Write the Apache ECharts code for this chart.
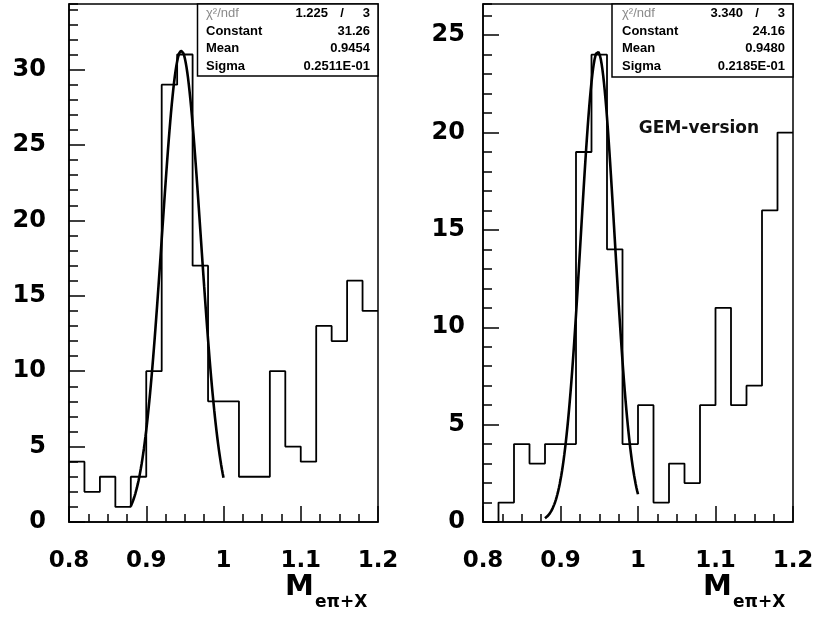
<!DOCTYPE html>
<html>
<head>
<meta charset="utf-8">
<script src="https://cdn.jsdelivr.net/npm/echarts@6/dist/echarts.min.js"></script>
<style>
html,body{margin:0;padding:0;background:#fff;}
#c{width:820px;height:623px;}
</style>
</head>
<body>
<div id="c"></div>
<script>
// ---- data ----
const binEdges = [0.80,0.82,0.84,0.86,0.88,0.90,0.92,0.94,0.96,0.98,1.00,1.02,1.04,1.06,1.08,1.10,1.12,1.14,1.16,1.18,1.20];
const leftCounts  = [4,2,3,1,3,10,29,31,17,8,8,3,3,10,5,4,13,12,16,14];
const rightCounts = [0,1,4,3,4,4,19,24,14,4,6,1,3,2,6,11,6,7,16,20];
const fitLabels = ['Constant','Mean','Sigma'];
const leftFitParams  = [31.26, 0.9454, 0.02511];
const rightFitParams = [24.16, 0.9480, 0.02185];
const leftFitText  = ['31.26','0.9454','0.2511E-01'];
const rightFitText = ['24.16','0.9480','0.2185E-01'];
const leftChi2  = ['1.225','3'];
const rightChi2 = ['3.340','3'];
const fitRange = [0.88, 1.00];
const xRange = [0.8, 1.2];
const leftYMax = 34.35;
const rightYMax = 26.6;
const panelNote = 'GEM-version';

// ---- helpers ----
function histPoints(counts){
  const pts = counts.map((c,i)=>[binEdges[i], c]);
  pts.push([binEdges[binEdges.length-1], counts[counts.length-1]]);
  return pts;
}
function fitCurve(p){
  // fitted gaussian drawn from the displayed fit parameters
  const pts = [];
  const n = 120;
  for(let k=0;k<=n;k++){
    const x = fitRange[0] + (fitRange[1]-fitRange[0])*k/n;
    const z = (x-p[1])/p[2];
    pts.push([x, p[0]*Math.exp(-0.5*z*z)]);
  }
  return pts;
}

const chart = echarts.init(document.getElementById('c'), null, {renderer:'canvas'});
const xFont = {fontFamily:'DejaVu Sans', fontWeight:'bold', fontSize:23, color:'#000'};
const yFont = {fontFamily:'DejaVu Sans', fontWeight:'bold', fontSize:24, color:'#000'};

function xAxisCfg(gi){
  return {
    type:'value', gridIndex:gi, min:xRange[0], max:xRange[1], interval:0.1,
    axisLine:{show:true, lineStyle:{color:'#000', width:1.5}},
    axisTick:{show:true, inside:true, length:16, lineStyle:{color:'#000', width:1.5}},
    minorTick:{show:true, splitNumber:4, length:8, lineStyle:{color:'#000', width:1.5}},
    splitLine:{show:false}, minorSplitLine:{show:false},
    axisLabel:Object.assign({margin:28, formatter:v=>String(+(+v).toFixed(1))}, xFont)
  };
}
function yAxisMajor(gi, max, margin){
  return {
    type:'value', gridIndex:gi, min:0, max:max, interval:5, position:'left',
    axisLine:{show:true, lineStyle:{color:'#000', width:1.5}},
    axisTick:{show:true, inside:true, length:16, lineStyle:{color:'#000', width:1.5}},
    splitLine:{show:false},
    axisLabel:Object.assign({margin:margin, showMaxLabel:false,
      formatter:v=>(Math.abs(v%5)<1e-6? String(Math.round(v)) : '')}, yFont)
  };
}
function yAxisMinor(gi, max){
  return {
    type:'value', gridIndex:gi, min:0, max:max, interval:1, position:'left',
    axisLine:{show:false},
    axisTick:{show:true, inside:true, length:9, lineStyle:{color:'#000', width:1.5}},
    splitLine:{show:false},
    axisLabel:{show:false}
  };
}

function statBox(x0, y0, w, h, labelX, valueX, chiValX, slashX, chi, vals){
  const els = [];
  const font = 'bold 13px "Liberation Sans", Arial, sans-serif';
  els.push({type:'rect', z:100, shape:{x:x0, y:y0, width:w, height:h},
    style:{fill:'#fff', stroke:'#000', lineWidth:1.5}});
  const rows = [13, 31, 48.5, 66.5];
  els.push({type:'text', z:101, x:labelX, y:rows[0],
    style:{text:'χ²/ndf', font:'13px "Liberation Sans", Arial, sans-serif', fill:'#8a8a8a', align:'left', verticalAlign:'middle'}});
  els.push({type:'text', z:101, x:chiValX, y:rows[0],
    style:{text:chi[0], font:font, fill:'#000', align:'right', verticalAlign:'middle'}});
  els.push({type:'text', z:101, x:slashX, y:rows[0],
    style:{text:'/', font:font, fill:'#000', align:'center', verticalAlign:'middle'}});
  els.push({type:'text', z:101, x:valueX, y:rows[0],
    style:{text:chi[1], font:font, fill:'#000', align:'right', verticalAlign:'middle'}});
  for(let i=0;i<3;i++){
    els.push({type:'text', z:101, x:labelX, y:rows[i+1],
      style:{text:fitLabels[i], font:font, fill:'#000', align:'left', verticalAlign:'middle'}});
    els.push({type:'text', z:101, x:valueX, y:rows[i+1],
      style:{text:vals[i], font:font, fill:'#000', align:'right', verticalAlign:'middle'}});
  }
  return els;
}
function axisTitle(mx, y){
  return [
    {type:'text', z:101, x:mx, y:y,
      style:{text:'M', font:'bold 29px "DejaVu Sans"', fill:'#000', align:'left', verticalAlign:'middle'}},
    {type:'text', z:101, x:mx+30, y:y+16,
      style:{text:'eπ+X', font:'bold 17px "DejaVu Sans"', fill:'#000', align:'left', verticalAlign:'middle'}}
  ];
}

const graphics = []
  .concat(statBox(197.5, 4, 180.5, 72, 206, 370, 328, 342, leftChi2, leftFitText))
  .concat(statBox(612, 4, 181, 73, 622, 785, 743, 757, rightChi2, rightFitText))
  .concat(axisTitle(285, 587))
  .concat(axisTitle(703, 587))
  .concat([{type:'text', z:101, x:699, y:129,
    style:{text:panelNote, font:'bold 17px "DejaVu Sans"', fill:'#111', align:'center', verticalAlign:'middle'}}]);

const option = {
  animation:false,
  backgroundColor:'#fff',
  grid:[
    {left:69, top:4, width:309, height:518, show:true, borderColor:'#000', borderWidth:1.5, backgroundColor:'transparent'},
    {left:483, top:4, width:310, height:518, show:true, borderColor:'#000', borderWidth:1.5, backgroundColor:'transparent'}
  ],
  xAxis:[xAxisCfg(0), xAxisCfg(1)],
  yAxis:[yAxisMajor(0, leftYMax, 23), yAxisMinor(0, leftYMax), yAxisMajor(1, rightYMax, 18), yAxisMinor(1, rightYMax)],
  series:[
    {type:'line', xAxisIndex:0, yAxisIndex:0, step:'end', symbol:'none', data:histPoints(leftCounts),
      lineStyle:{color:'#000', width:1.8}, z:3},
    {type:'line', xAxisIndex:0, yAxisIndex:0, symbol:'none', data:fitCurve(leftFitParams),
      lineStyle:{color:'#000', width:2.6}, z:4},
    {type:'line', xAxisIndex:1, yAxisIndex:2, step:'end', symbol:'none', data:histPoints(rightCounts),
      lineStyle:{color:'#000', width:1.8}, z:3},
    {type:'line', xAxisIndex:1, yAxisIndex:2, symbol:'none', data:fitCurve(rightFitParams),
      lineStyle:{color:'#000', width:2.6}, z:4}
  ],
  graphic:graphics
};
chart.setOption(option);
</script>
</body>
</html>
